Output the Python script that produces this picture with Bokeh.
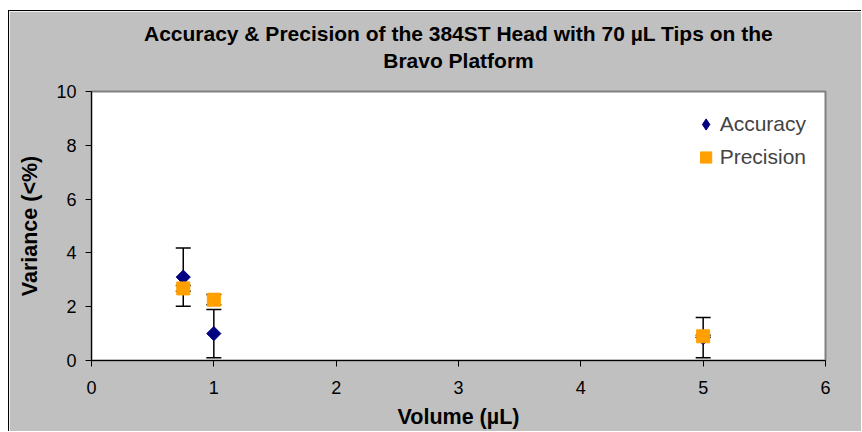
import numpy as np
from bokeh.plotting import figure
from bokeh.models import (ColumnDataSource, Whisker, TeeHead, Title, FixedTicker,
                          Legend, LegendItem, Range1d)
from bokeh.embed import file_html
from bokeh.resources import INLINE

# ---- data ----
volume = [0.75, 1.0, 5.0]
accuracy = [3.1, 1.0, 0.85]
accuracy_err = [1.08, 0.9, 0.75]
precision = [2.68, 2.26, 0.9]
precision_err = [0.11, 0.19, 0.04]
x_ticks = [0, 1, 2, 3, 4, 5, 6]
y_ticks = [0, 2, 4, 6, 8, 10]
title_lines = ["Accuracy & Precision of the 384ST Head with 70 \u00b5L Tips on the", "Bravo Platform"]

FONT = "Liberation Sans"
GRAY = "#C0C0C0"
NAVY = "#000080"
ORANGE = "#FFA000"

acc_src = ColumnDataSource(dict(
    x=volume, y=accuracy,
    upper=[a + e for a, e in zip(accuracy, accuracy_err)],
    lower=[a - e for a, e in zip(accuracy, accuracy_err)],
))
prec_src = ColumnDataSource(dict(
    x=volume, y=precision,
    upper=[a + e for a, e in zip(precision, precision_err)],
    lower=[a - e for a, e in zip(precision, precision_err)],
))

p = figure(width=853, height=421, output_backend="svg", toolbar_location=None,
           title=None, x_range=Range1d(0, 6), y_range=Range1d(0, 10),
           min_border_left=82, min_border_right=37, min_border_top=80, min_border_bottom=72)
p.margin = (10, 0, 0, 8)
p.styles = {"border-left": "1px solid #000000", "border-top": "1px solid #000000"}

p.background_fill_color = "white"
p.border_fill_color = GRAY
p.outline_line_color = "#808080"
p.outline_line_width = 2
p.xgrid.visible = False
p.ygrid.visible = False

for ax in (p.xaxis[0], p.yaxis[0]):
    ax.axis_line_color = "black"
    ax.axis_line_width = 1
    ax.major_tick_line_color = "black"
    ax.major_tick_out = 6
    ax.major_tick_in = 0
    ax.minor_tick_line_color = None
    ax.major_label_text_font = FONT
    ax.major_label_text_font_size = "18px"
    ax.major_label_text_color = "black"
    ax.axis_label_text_font = FONT
    ax.axis_label_text_font_size = "21.5px"
    ax.axis_label_text_font_style = "bold"
    ax.axis_label_text_color = "black"

p.xaxis[0].ticker = FixedTicker(ticks=x_ticks)
p.yaxis[0].ticker = FixedTicker(ticks=y_ticks)
p.xaxis[0].axis_label = "Volume (\u00b5L)"
p.yaxis[0].axis_label = "Variance (<%)"
p.xaxis[0].major_label_standoff = 14
p.xaxis[0].axis_label_standoff = 8
p.yaxis[0].major_label_standoff = 9
p.yaxis[0].axis_label_standoff = 11

# error bars + markers
head = dict(size=15, line_color="black", line_width=1.5)
p.add_layout(Whisker(source=acc_src, base="x", upper="upper", lower="lower",
                     line_color="black", line_width=1.5,
                     upper_head=TeeHead(**head), lower_head=TeeHead(**head)))
# diamond glyph (serves as the legend swatch; legend glyphs ignore marker angle)
acc_key = p.scatter("x", "y", source=acc_src, marker="diamond", size=12,
                    fill_color=NAVY, line_color=NAVY)
p.scatter("x", "y", source=acc_src, marker="square", angle=np.pi / 4, size=10,
          fill_color=NAVY, line_color=NAVY)
p.add_layout(Whisker(source=prec_src, base="x", upper="upper", lower="lower",
                     line_color="black", line_width=1.5,
                     upper_head=TeeHead(**head), lower_head=TeeHead(**head)))
prec_r = p.scatter("x", "y", source=prec_src, marker="square", size=13,
                   fill_color=ORANGE, line_color=ORANGE)

legend = Legend(items=[LegendItem(label="Accuracy", renderers=[acc_key]),
                       LegendItem(label="Precision", renderers=[prec_r])],
                location="top_right", margin=19, padding=0, spacing=5,
                glyph_width=28, glyph_height=28, label_standoff=-2,
                label_text_font=FONT, label_text_font_size="21px",
                background_fill_alpha=0, border_line_color=None)
p.add_layout(legend)

# blank band between the frame and the title
p.add_layout(Title(text=" ", text_font=FONT, text_font_size="12px", standoff=3), "above")

# two-line title: earlier-added titles sit nearer the frame
p.add_layout(Title(text=title_lines[1], align="center", text_font=FONT, text_font_size="21px",
                   text_font_style="bold", text_color="black", standoff=2), "above")
p.add_layout(Title(text=title_lines[0], align="center", text_font=FONT, text_font_size="21px",
                   text_font_style="bold", text_color="black", standoff=2), "above")

open("out.html", "w").write(file_html(p, INLINE))
